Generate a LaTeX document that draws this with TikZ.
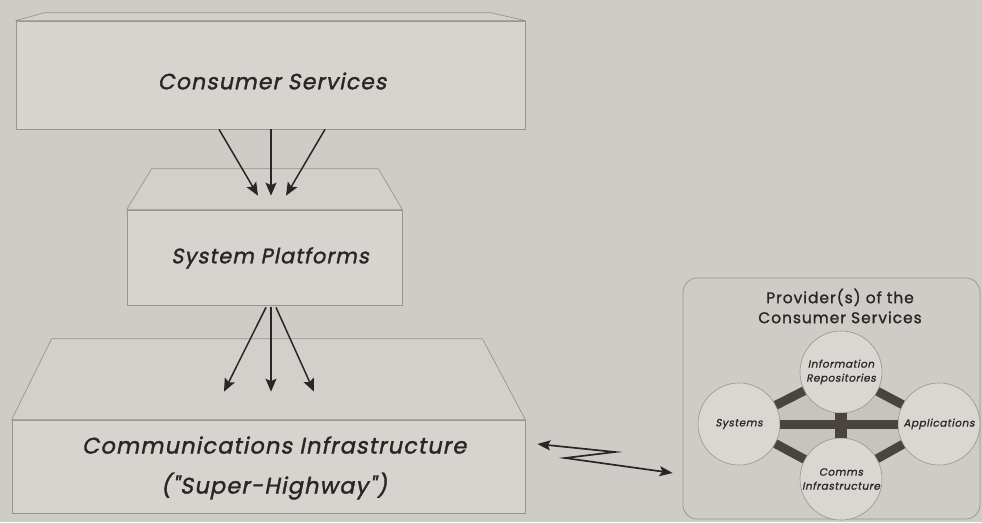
\documentclass[tikz,border=0pt]{standalone}
\usepackage{fontspec}
\setmainfont{Poppins}
\newfontfamily\obl[FakeSlant=0.2, FakeBold=1.5, LetterSpace=5]{Poppins}
\newfontfamily\oblsmall[FakeSlant=0.2, FakeBold=1, LetterSpace=5]{Poppins}
\newfontfamily\provfont[FakeBold=1.2, LetterSpace=6]{Poppins}
\usetikzlibrary{arrows.meta,calc}
\definecolor{bg}{RGB}{205,204,199}
\definecolor{face}{RGB}{213,212,207}
\definecolor{topface}{RGB}{209,208,203}
\definecolor{edge}{RGB}{150,149,144}
\definecolor{ink}{RGB}{40,39,37}
\definecolor{circfill}{RGB}{216,215,210}
\definecolor{inner}{RGB}{197,196,191}
\definecolor{barc}{RGB}{74,68,64}
\tikzset{
  boxface/.style={draw=edge, fill=face, line width=0.7pt, inner sep=0pt},
  topf/.style={draw=edge, fill=topface, line width=0.7pt, line join=round},
  biglabel/.style={text=ink, font=\obl\fontsize{22}{40}\selectfont, align=center, inner sep=0pt},
  flow/.style={draw=ink, line width=1.5pt, -{Stealth[length=13pt,width=11pt,inset=2.5pt]}},
  zap/.style={draw=ink, line width=1.7pt, line join=miter,
    {Stealth[length=13pt,width=10pt,inset=2.5pt]}-{Stealth[length=13pt,width=10pt,inset=2.5pt]}},
  provbox/.style={draw=edge, fill=bg, rounded corners=14pt, line width=0.7pt, inner sep=0pt},
  circ/.style={circle, draw=edge, fill=circfill, line width=0.6pt, minimum size=82pt, inner sep=0pt,
    text=ink, font=\oblsmall\fontsize{10.5}{14}\selectfont, align=center},
  bar/.style={draw=barc, line width=9pt},
}
\begin{document}
\begin{tikzpicture}[x=1pt,y=-1pt]
\useasboundingbox (0,0) rectangle (982,522);
\fill[bg] (0,0) rectangle (982,522);

% ---- Consumer Services box
\node[boxface, minimum width=509pt, minimum height=108pt] (cs) at (270.5,75) {};
\filldraw[topf] (cs.north west) -- ++(29,-8) -- ($(cs.north east)+(-35,-8)$) -- (cs.north east) -- cycle;
\node[biglabel] (csl) at (272,81) {Consumer Services};

% ---- System Platforms box
\node[boxface, minimum width=275pt, minimum height=95pt] (sp) at (264.5,257.5) {};
\filldraw[topf] (sp.north west) -- ++(25,-41) -- ($(sp.north east)+(-24,-41)$) -- (sp.north east) -- cycle;
\node[biglabel, font=\obl\fontsize{21}{40}\selectfont] (spl) at (270,258) {System Platforms};

% ---- Communications Infrastructure box
\node[boxface, minimum width=513pt, minimum height=93pt] (ci) at (268.5,466.5) {};
\filldraw[topf] (ci.north west) -- ++(40,-81) -- ($(ci.north east)+(-43,-81)$) -- (ci.north east) -- cycle;
\node[biglabel, font=\obl\fontsize{22.5}{40}\selectfont] (cil) at (274,468) {Communications Infrastructure\\("Super-Highway")};

% ---- arrows Consumer Services -> System Platforms
\draw[flow] ($(cs.south)+(-51.5,0)$) -- ($(sp.north)+(-6.5,-14)$);
\draw[flow] ($(cs.south)+(0.5,0)$) -- ($(sp.north)+(6.5,-14)$);
\draw[flow] ($(cs.south)+(54.5,0)$) -- ($(sp.north)+(21.5,-14)$);

% ---- arrows System Platforms -> Communications Infrastructure
\draw[flow] ($(sp.south)+(1.5,2)$) -- ($(ci.north)+(-44.5,-28)$);
\draw[flow] ($(sp.south)+(6.5,2)$) -- ($(ci.north)+(2.5,-28)$);
\draw[flow] ($(sp.south)+(11.5,2)$) -- ($(ci.north)+(45.5,-28)$);

% ---- Provider box
\node[provbox, minimum width=297pt, minimum height=241pt] (pb) at (831.5,398.5) {};
\node[text=ink, font=\provfont\fontsize{15.5}{20}\selectfont, align=center, inner sep=0pt] (pbt) at (840,306) {Provider(s) of the\\Consumer Services};

\coordinate (cI) at (841,372);
\coordinate (cS) at (739,424);
\coordinate (cA) at (939,424);
\coordinate (cC) at (841,479);
\fill[inner] (cS) -- (cI) -- (cA) -- (cC) -- cycle;

\node[circ] (info) at (cI) {Information\\Repositories};
\node[circ] (sys) at (cS) {Systems};
\node[circ] (app) at (cA) {Applications};
\node[circ] (comm) at (cC) {Comms\\Infrastructure};

\draw[bar] (sys) -- (info);
\draw[bar] (info) -- (app);
\draw[bar] (sys) -- (comm);
\draw[bar] (comm) -- (app);
\draw[bar] (sys) -- (app);
\draw[bar, line width=12pt] (info) -- (comm);

% ---- lightning link
\coordinate (z1) at ($(ci.east)+(12,-22.5)$);
\coordinate (z4) at ($(pb.west)+(-10,74.5)$);
\draw[zap] (z1) -- (615,452) -- (565,458) -- (z4);
\end{tikzpicture}
\end{document}
